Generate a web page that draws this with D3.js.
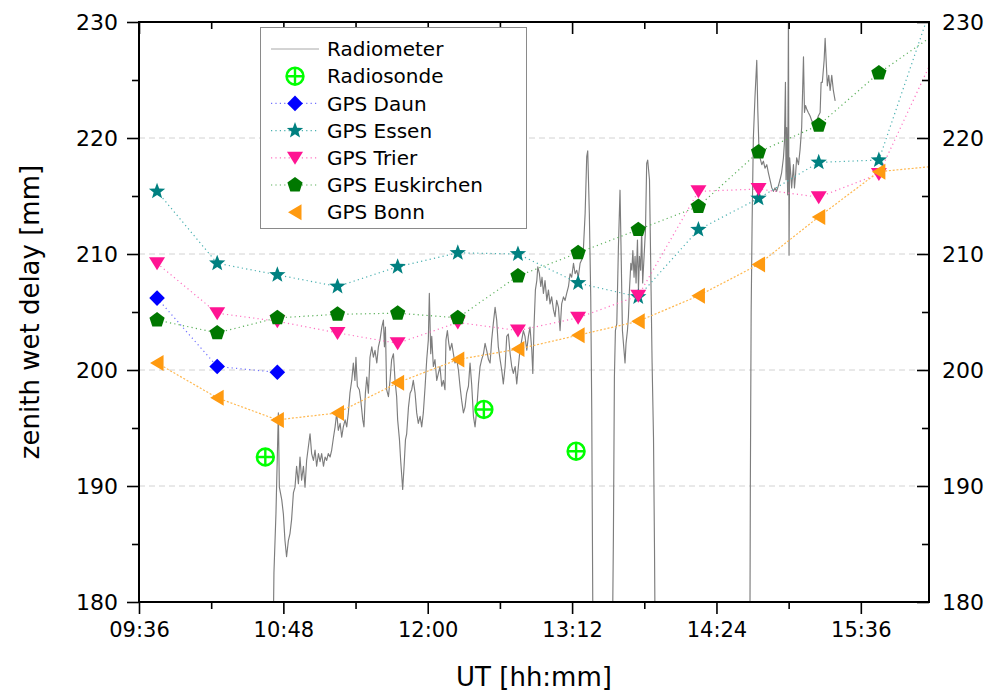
<!DOCTYPE html>
<html>
<head>
<meta charset="utf-8">
<script src="https://cdn.jsdelivr.net/npm/d3@7"></script>
<style>
  html, body { margin: 0; padding: 0; background: #fff; }
  svg { display: block; }
  text { font-family: "DejaVu Sans", Verdana, sans-serif; fill: #000; }
</style>
</head>
<body>
<svg id="chart" width="989" height="695"></svg>
<script>
// ---- data -------------------------------------------------------------
const xTickLabels = ["09:36", "10:48", "12:00", "13:12", "14:24", "15:36"];
const yTickValues = [180, 190, 200, 210, 220, 230];

// GPS zenith wet delay estimates, half-hourly (UT)
const gpsTimes = ["09:45", "10:15", "10:45", "11:15", "11:45", "12:15", "12:45",
                  "13:15", "13:45", "14:15", "14:45", "15:15", "15:45", "16:15"];
const gpsDaun       = [206.2, 200.3, 199.8];
const gpsEssen      = [215.4, 209.2, 208.2, 207.2, 208.9, 210.1, 210.0, 207.5, 206.3, 212.1, 214.8, 217.9, 218.1, 233.3];
const gpsTrier      = [209.2, 204.9, 204.2, 203.2, 202.3, 204.1, 203.4, 204.5, 206.4, 215.4, 215.6, 214.9, 216.9, 228.0];
const gpsEuskirchen = [204.3, 203.2, 204.5, 204.8, 204.9, 204.5, 208.1, 210.1, 212.1, 214.1, 218.8, 221.1, 225.6, 229.2];
const gpsBonn       = [200.6, 197.6, 195.7, 196.3, 198.9, 200.9, 201.8, 203.0, 204.2, 206.4, 209.1, 213.2, 217.1, 217.6];

// radiosonde launches
const sondeTimes = ["10:39", "12:28", "13:14"];
const sondeZwd   = [192.5, 196.6, 193.0];

// radiometer record: [minutes after 00:00 UT, zwd in mm]
const radiometer = [
  [643.0,178],[643.3,182.5],[644.3,187.6],[645.5,196.3],[646.0,189.9],[647.2,188.8],[648.0,187.6],[648.8,185.3],
  [649.6,183.9],[650.5,185.3],[651.3,185.9],[652.1,187.1],[653.0,189.4],[653.8,189.9],[654.6,191.7],[655.5,190.2],
  [656.3,192.5],[657.1,190.5],[658.0,191.7],[658.8,189.9],[659.6,192.2],[661.3,194.5],[662.1,192.8],[663.0,192.2],
  [663.8,193.1],[664.6,191.7],[665.5,192.8],[666.3,192.1],[667.1,192.8],[668.0,191.7],[668.8,192.5],[669.6,192.2],
  [670.4,192.8],[671.3,192.5],[672.1,193.1],[673.0,194.2],[673.8,195.1],[674.6,196.3],[675.4,194.8],[676.3,195.4],
  [677.1,194.2],[677.9,195.1],[678.8,195.7],[679.6,195.1],[680.4,196.3],[681.2,198.0],[682.1,199.1],[682.9,200.6],
  [683.7,199.1],[684.2,201.1],[684.9,198.6],[685.9,198.3],[686.6,197.4],[687.6,195.7],[688.2,195.1],[688.9,198.0],
  [689.6,199.4],[690.4,198.0],[691.2,201.1],[692.1,202.0],[692.9,201.1],[693.7,201.7],[694.6,200.6],[695.4,202.0],
  [696.2,202.6],[697.1,203.7],[697.9,204.3],[698.4,202.0],[698.9,203.7],[699.5,198.3],[700.4,197.7],[701.2,199.1],
  [702.0,200.9],[702.9,201.4],[703.7,199.1],[704.5,197.7],[705.0,195.7],[705.9,194.0],[706.5,192.2],[707.2,190.5],
  [707.5,189.7],[708.2,191.7],[708.9,194.0],[709.5,194.5],[710.4,196.8],[711.2,198.0],[712.0,198.3],[712.8,199.1],
  [713.7,198.0],[714.5,196.3],[715.3,195.4],[716.2,196.0],
  [717.0,195.1],[717.8,196.3],[718.7,198.6],[719.5,200.9],[720.3,202.6],[720.8,206.6],[721.5,201.4],[722.0,202.9],
  [722.8,200.3],[723.6,200.9],[724.5,199.1],[725.3,199.7],[726.1,200.3],[727.0,198.6],[727.8,199.1],[728.6,198.3],
  [729.1,202.6],[729.8,203.4],[730.5,202.3],[731.1,201.7],[732.0,202.3],[732.8,201.4],[733.6,200.6],[734.5,200.9],
  [735.3,200.0],[736.1,198.6],[736.9,197.4],[737.8,196.3],[738.6,196.8],[739.4,198.0],[740.3,198.6],[741.1,200.6],
  [741.9,198.8],[742.8,196.0],[743.6,195.1],[744.4,196.5],[745.3,198.8],[746.1,200.3],[746.9,200.9],[747.8,201.4],
  [748.6,202.3],[749.4,201.7],[750.3,200.9],[751.1,200.6],[751.9,202.6],[752.7,204.0],[753.6,205.4],[754.4,204.3],
  [755.2,202.0],[756.1,200.9],[756.9,200.0],[757.7,198.8],[758.6,200.3],[759.4,202.9],[760.2,203.1],[761.1,201.4],
  [761.9,200.3],[762.7,199.7],[763.6,200.3],[764.4,198.8],[765.2,200.3],[766.0,201.7],[766.9,202.6],[767.7,203.4],
  [768.5,202.9],[769.4,201.7],[770.2,202.9],[771.0,203.7],[771.9,201.7],[772.4,199.7],[773.0,203.7],[773.7,206.9],
  [774.4,207.7],[774.9,208.9],[775.7,208.3],[776.4,207.2],[777.0,208.0],[777.7,206.6],[778.5,207.7],[779.4,206.0],
  [780.2,206.9],[781.0,205.7],[781.8,206.3],[782.7,205.2],[783.5,204.6],[784.3,206.0],[785.2,205.4],[786.0,203.4],
  [786.8,205.7],[787.7,206.3],[788.5,206.0],[789.3,206.6],[790.2,207.2],[791.0,208.3],
  [791.8,208.0],[792.7,209.2],[793.5,208.3],[794.3,208.6],[795.1,208.0],[796.0,209.2],[796.8,209.5],[797.6,210.3],
  [798.5,213.5],[799.3,218.4],[799.8,218.9],[800.6,213.5],[801.3,206.3],[801.8,196.5],[802.3,180.2],[802.6,172],
  [812.1,172],[812.3,180.0],[812.6,185.6],[813.1,199.4],[813.6,203.4],[814.3,204.0],[815.1,210.6],[815.9,215.5],
  [816.4,210.6],[817.1,203.4],[817.6,202.3],[818.4,200.6],[818.9,202.3],[819.6,203.4],[820.1,204.6],[820.6,206.9],
  [821.3,209.2],[821.8,208.6],[822.3,210.3],[822.9,208.0],[823.4,209.8],[823.9,207.5],[824.6,211.2],[825.1,206.9],
  [825.6,209.8],[826.2,208.6],[826.7,212.1],[827.2,207.5],[827.9,209.8],[828.6,212.1],[829.2,217.8],[829.7,218.1],
  [830.6,216.4],[831.2,209.2],[831.9,200.6],[832.6,194.2],[833.1,184.5],[833.6,172],
  [880.6,172],[880.9,190.0],[881.3,205.0],[881.8,213.0],[882.4,220.0],[883.2,223.5],[884.1,226.7],[884.6,222.5],
  [885.1,219.6],[885.7,218.3],[886.6,217.7],[887.4,218.0],[888.2,217.4],[889.1,217.7],[889.9,217.0],[890.7,216.4],
  [891.6,215.7],[892.4,215.4],[893.2,215.7],[894.0,215.4],[894.9,215.9],[895.7,216.4],[896.5,217.0],[897.4,218.3],
  [897.9,219.6],[898.4,224.8],[898.7,216.4],[899.0,220.9],[899.5,215.1],[899.9,231.0],[900.2,209.9],[900.5,218.3],
  [901.0,217.0],[901.5,215.7],[902.4,217.7],[902.9,215.7],[903.4,216.7],[904.0,218.3],[904.9,217.7],[905.7,219.0],
  [906.5,220.9],[907.4,227.0],[907.9,222.2],[908.4,222.8],[909.0,222.5],[909.8,222.2],[910.7,221.9],[911.5,221.5],
  [912.3,221.2],[913.2,221.2],[914.0,221.5],[914.8,221.9],[915.7,222.2],[916.2,224.8],[916.8,224.8],[917.7,226.7],
  [918.2,228.6],[918.7,226.7],[919.3,224.5],[920.0,225.4],[920.7,224.1],[921.5,225.4],[922.3,224.1],[923.2,223.2]
];

// ---- helpers ----------------------------------------------------------
const toMin = s => { const [h, m] = s.split(":").map(Number); return h * 60 + m; };
const pad2 = n => String(n).padStart(2, "0");
const fmtMin = m => pad2(Math.floor(m / 60)) + ":" + pad2(Math.round(m % 60));

const margin = { left: 139, right: 929, top: 22, bottom: 602 };
const x = d3.scaleLinear().domain([576, 970]).range([margin.left, margin.right]);
const y = d3.scaleLinear().domain([180, 230]).range([margin.bottom, margin.top]);

const svg = d3.select("#chart");
svg.append("rect").attr("width", 989).attr("height", 695).attr("fill", "#fff");

svg.append("defs").append("clipPath").attr("id", "plot-clip")
  .append("rect")
  .attr("x", margin.left).attr("y", margin.top)
  .attr("width", margin.right - margin.left).attr("height", margin.bottom - margin.top);

// marker shapes centred on 0,0
function polygon(n, r, rot) {
  const pts = d3.range(n).map(i => {
    const a = rot + i * 2 * Math.PI / n;
    return [r * Math.cos(a), r * Math.sin(a)];
  });
  return "M" + pts.map(p => p.join(",")).join("L") + "Z";
}
function starPath(ro, ri) {
  const pts = d3.range(10).map(i => {
    const a = -Math.PI / 2 + i * Math.PI / 5;
    const r = i % 2 ? ri : ro;
    return [r * Math.cos(a), r * Math.sin(a)];
  });
  return "M" + pts.map(p => p.join(",")).join("L") + "Z";
}
const shapes = {
  diamond: "M0,-7.8L7.8,0L0,7.8L-7.8,0Z",
  star: starPath(8.6, 3.6),
  triDown: "M-8,-6L8,-6L0,7Z",
  pentagon: polygon(5, 8, -Math.PI / 2),
  triLeft: "M-7,0L6.5,-8L6.5,8Z"
};

const gpsSeries = [
  { name: "GPS Daun",       values: gpsDaun,       color: "#0000ff", line: "#7070ff", shape: "diamond",  dash: "1.2,3.2" },
  { name: "GPS Essen",      values: gpsEssen,      color: "#008080", line: "#4ab0b0", shape: "star",     dash: "1.2,3.2" },
  { name: "GPS Trier",      values: gpsTrier,      color: "#ff1493", line: "#ff70c0", shape: "triDown",  dash: "1.2,3.2" },
  { name: "GPS Euskirchen", values: gpsEuskirchen, color: "#007800", line: "#5ab05a", shape: "pentagon", dash: "1.2,3.2" },
  { name: "GPS Bonn",       values: gpsBonn,       color: "#ff9a10", line: "#ffb850", shape: "triLeft",  dash: "2,1.8" }
];

// ---- grid -------------------------------------------------------------
svg.append("g").selectAll("line")
  .data([190, 200, 210, 220]).join("line")
  .attr("x1", margin.left).attr("x2", margin.right)
  .attr("y1", d => y(d)).attr("y2", d => y(d))
  .attr("stroke", "#d2d2d2").attr("stroke-width", 1)
  .attr("stroke-dasharray", "6,4");

const plot = svg.append("g").attr("clip-path", "url(#plot-clip)");

// ---- radiometer trace -------------------------------------------------
plot.append("path")
  .datum(radiometer)
  .attr("fill", "none")
  .attr("stroke", "#7d7d7d")
  .attr("stroke-width", 1.15)
  .attr("stroke-linejoin", "round")
  .attr("d", d3.line().x(d => x(d[0])).y(d => y(d[1])));

// ---- GPS connecting lines --------------------------------------------
const gpsLine = d3.line()
  .x(d => x(d.t)).y(d => y(d.v));

gpsSeries.forEach(s => {
  s.points = s.values.map((v, i) => ({ t: toMin(gpsTimes[i]), v }));
  plot.append("path")
    .datum(s.points)
    .attr("fill", "none")
    .attr("stroke", s.line)
    .attr("stroke-width", 1.2)
    .attr("stroke-dasharray", s.dash)
    .attr("d", gpsLine);
});

// ---- GPS markers ------------------------------------------------------
gpsSeries.forEach(s => {
  plot.append("g").selectAll("path")
    .data(s.points).join("path")
    .attr("d", shapes[s.shape])
    .attr("transform", d => `translate(${x(d.t)},${y(d.v)})`)
    .attr("fill", s.color);
});

// ---- radiosonde markers -----------------------------------------------
function sondeMark(g) {
  g.append("circle").attr("r", 8.4).attr("fill", "#fff")
    .attr("stroke", "#00ff00").attr("stroke-width", 2.6);
  g.append("path").attr("d", "M-8.4,0H8.4M0,-8.4V8.4")
    .attr("stroke", "#00ff00").attr("stroke-width", 2.4);
}
sondeTimes.forEach((t, i) => {
  plot.append("g")
    .attr("transform", `translate(${x(toMin(t))},${y(sondeZwd[i])})`)
    .call(sondeMark);
});

// ---- axes -------------------------------------------------------------
const majorX = xTickLabels.map(toMin);
const minorX = majorX.map(m => m + 36).filter(m => m < 970);
const minorY = [185, 195, 205, 215, 225];

function styleAxis(size) {
  return g => {
    g.select(".domain").remove();
    g.selectAll(".tick line").attr("stroke", "#000").attr("stroke-width", 1.6);
    g.selectAll("text").attr("font-size", size).attr("fill", "#000")
      .attr("font-family", "'DejaVu Sans', Verdana, sans-serif");
  };
}

// bottom (ticks outward)
svg.append("g").attr("transform", `translate(0,${margin.bottom})`)
  .call(d3.axisBottom(x).tickValues(majorX).tickFormat(fmtMin).tickSize(12).tickPadding(8))
  .call(styleAxis(21));
svg.append("g").attr("transform", `translate(0,${margin.bottom})`)
  .call(d3.axisBottom(x).tickValues(minorX).tickFormat("").tickSize(7))
  .call(styleAxis(21));

// top (ticks inward)
svg.append("g").attr("transform", `translate(0,${margin.top})`)
  .call(d3.axisTop(x).tickValues(majorX).tickFormat("").tickSize(-12))
  .call(styleAxis(21));
svg.append("g").attr("transform", `translate(0,${margin.top})`)
  .call(d3.axisTop(x).tickValues(minorX).tickFormat("").tickSize(-7))
  .call(styleAxis(21));

// left (ticks outward)
svg.append("g").attr("transform", `translate(${margin.left},0)`)
  .call(d3.axisLeft(y).tickValues(yTickValues).tickFormat(d3.format("d")).tickSize(12).tickPadding(9))
  .call(styleAxis(22));
svg.append("g").attr("transform", `translate(${margin.left},0)`)
  .call(d3.axisLeft(y).tickValues(minorY).tickFormat("").tickSize(7))
  .call(styleAxis(22));

// right (ticks inward)
svg.append("g").attr("transform", `translate(${margin.right},0)`)
  .call(d3.axisRight(y).tickValues(yTickValues).tickFormat(d3.format("d")).tickSize(-12).tickPadding(13))
  .call(styleAxis(22));
svg.append("g").attr("transform", `translate(${margin.right},0)`)
  .call(d3.axisRight(y).tickValues(minorY).tickFormat("").tickSize(-7))
  .call(styleAxis(22));

// frame
svg.append("rect")
  .attr("x", margin.left).attr("y", margin.top)
  .attr("width", margin.right - margin.left).attr("height", margin.bottom - margin.top)
  .attr("fill", "none").attr("stroke", "#000").attr("stroke-width", 2);

// axis titles
svg.append("text")
  .attr("transform", `translate(39,${(margin.top + margin.bottom) / 2}) rotate(-90)`)
  .attr("text-anchor", "middle").attr("font-size", 26)
  .text("zenith wet delay [mm]");
svg.append("text")
  .attr("x", (margin.left + margin.right) / 2).attr("y", 686)
  .attr("text-anchor", "middle").attr("font-size", 26)
  .text("UT [hh:mm]");

// ---- legend -----------------------------------------------------------
const legend = svg.append("g");
legend.append("rect")
  .attr("x", 260.5).attr("y", 27.5).attr("width", 266).attr("height", 201)
  .attr("fill", "#fff").attr("stroke", "#8a8a8a").attr("stroke-width", 1);

const legendItems = [
  { name: "Radiometer", kind: "trace" },
  { name: "Radiosonde", kind: "sonde" },
  ...gpsSeries.map(s => ({ name: s.name, kind: "gps", s }))
];
legendItems.forEach((it, i) => {
  const cy = 49 + i * 27.2;
  const g = legend.append("g");
  if (it.kind === "trace") {
    g.append("line").attr("x1", 271).attr("x2", 319).attr("y1", cy).attr("y2", cy)
      .attr("stroke", "#a8a8a8").attr("stroke-width", 1);
  } else if (it.kind === "sonde") {
    g.append("g").attr("transform", `translate(295,${cy})`).call(sondeMark);
  } else {
    if (it.s.name !== "GPS Bonn") {
      g.append("line").attr("x1", 271).attr("x2", 319).attr("y1", cy).attr("y2", cy)
        .attr("stroke", it.s.line).attr("stroke-width", 1.2).attr("stroke-dasharray", it.s.dash);
    }
    g.append("path").attr("d", shapes[it.s.shape])
      .attr("transform", `translate(295,${cy})`).attr("fill", it.s.color);
  }
  g.append("text").attr("x", 327).attr("y", cy).attr("dy", "0.36em")
    .attr("font-size", 20).text(it.name);
});
</script>
</body>
</html>
